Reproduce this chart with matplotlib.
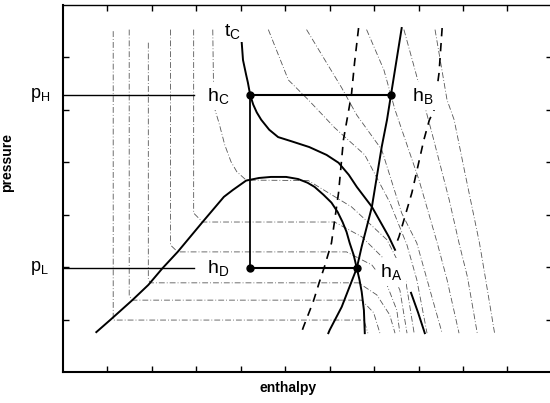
import matplotlib.pyplot as plt

plt.rcParams['font.family'] = ['Liberation Sans', 'DejaVu Sans']
plt.rcParams['mathtext.default'] = 'regular'

# cycle states (enthalpy, pressure), arbitrary units
p_high = 5.29
p_low = 1.98
state_c = (4.21, p_high)
state_b = (7.38, p_high)
state_d = (4.21, p_low)
state_a = (6.61, p_low)

# saturation dome
dome_h = [0.75, 1.06, 1.56, 1.92, 2.24, 2.58, 3.14, 3.62, 3.82, 4.12, 4.41, 4.68, 5.02, 5.29, 5.5, 5.66, 5.86,
          6.04, 6.18, 6.29, 6.38, 6.45, 6.54, 6.61, 6.67, 6.72, 6.77, 6.79]
dome_p = [0.76, 0.99, 1.37, 1.66, 1.98, 2.29, 2.86, 3.34, 3.47, 3.65, 3.70, 3.72, 3.72, 3.68, 3.61, 3.53, 3.38,
          3.23, 3.05, 2.86, 2.67, 2.46, 2.23, 1.98, 1.76, 1.53, 1.18, 0.74]

# critical isotherm t_C
tc_h = [4.0, 4.05, 4.12, 4.16, 4.21, 4.28, 4.36, 4.46, 4.64, 4.84, 5.14, 5.54, 5.93, 6.2, 6.43, 6.61,
        6.95, 7.17, 7.33, 7.47]
tc_p = [6.53, 5.95, 5.67, 5.52, 5.29, 5.1, 4.95, 4.81, 4.62, 4.48, 4.4, 4.29, 4.14, 3.99, 3.76, 3.53,
        3.15, 2.82, 2.58, 2.33]

# isentrope through A and B
isen_h = [7.62, 7.38, 7.29, 7.17, 6.95, 6.72, 6.61, 6.27, 6.0, 5.97]
isen_p = [6.56, 5.29, 4.81, 4.29, 3.15, 2.39, 1.98, 1.24, 0.8, 0.74]

# short isentrope piece, lower right
isen2_h = [7.83, 7.99, 8.14]
isen2_p = [1.51, 1.13, 0.74]

# dashed lines
dash1_h = [6.65, 6.56, 6.49, 6.31, 6.2, 6.04, 5.88, 5.77, 5.63, 5.41, 5.36]
dash1_p = [6.56, 5.9, 5.29, 4.43, 3.42, 2.46, 2.0, 1.72, 1.34, 0.86, 0.74]
dash2_h = [8.53, 8.46, 8.35, 8.24, 8.12, 7.85, 7.56, 7.5]
dash2_p = [6.56, 5.7, 5.0, 4.8, 4.43, 3.42, 2.58, 2.45]

# thin isotherms: liquid / two-phase / vapour parts
iso1 = [(1.13, 6.5), (1.13, 0.99), (6.77, 0.99), (6.86, 0.74)]
iso2 = [(1.49, 6.53), (1.49, 1.45), (1.56, 1.37), (6.72, 1.37), (6.99, 1.13), (7.13, 0.74)]
iso3 = [(1.92, 6.28), (1.92, 1.76), (1.97, 1.70), (6.65, 1.70), (7.06, 1.47), (7.35, 1.09), (7.47, 0.74)]
iso4 = [(2.42, 6.53), (2.42, 2.42), (2.58, 2.29), (6.38, 2.29), (6.95, 2.04), (7.29, 1.66), (7.51, 1.18), (7.58, 0.74)]
iso5 = [(2.94, 6.53), (2.94, 3.03), (3.14, 2.86), (6.11, 2.86), (6.72, 2.58), (7.29, 2.10), (7.58, 1.56), (7.74, 0.74)]
iso6 = [(3.37, 6.53), (3.39, 5.19), (3.42, 5.0), (3.51, 4.75), (3.64, 4.33), (3.78, 4.01), (3.91, 3.82),
        (4.12, 3.66), (5.52, 3.65), (6.49, 3.15), (7.29, 2.52), (7.69, 1.85), (7.9, 0.74)]
iso7 = [(4.62, 6.53), (5.07, 5.57), (5.52, 5.19), (6.11, 4.66), (6.79, 4.14), (7.35, 3.24), (7.74, 2.42), (7.96, 1.76), (8.19, 0.74)]
iso8 = [(5.48, 6.53), (6.27, 5.42), (6.61, 4.9), (7.17, 4.24), (7.62, 3.03), (7.96, 2.46), (8.3, 1.43), (8.53, 0.74)]
iso9 = [(6.83, 6.53), (7.22, 5.76), (7.47, 5.0), (8.01, 3.66), (8.42, 2.46), (8.64, 1.76), (8.91, 0.74)]
iso10 = [(7.67, 6.53), (7.92, 5.76), (8.3, 4.56), (8.69, 3.28), (8.91, 2.46), (9.1, 1.81), (9.32, 0.74)]
iso11 = [(8.37, 6.53), (8.64, 5.19), (8.8, 4.81), (9.03, 3.85), (9.37, 2.46), (9.5, 1.81), (9.71, 0.74)]
isotherms = [iso1, iso2, iso3, iso4, iso5, iso6, iso7, iso8, iso9, iso10, iso11]

fig = plt.figure(figsize=(5.5, 4.03), dpi=100)
ax = fig.add_axes([0.1145, 0.077, 0.889, 0.9107])

thin = dict(color='#555555', lw=0.6, ls=(0, (7, 2.5, 1, 2.5)))
for iso in isotherms:
    ax.plot([q[0] for q in iso], [q[1] for q in iso], **thin)

ax.plot(dome_h, dome_p, color='black', lw=1.4)
ax.plot(tc_h, tc_p, color='black', lw=1.4)
ax.plot(isen_h, isen_p, color='black', lw=1.4)
ax.plot(isen2_h, isen2_p, color='black', lw=1.4)
ax.plot(dash1_h, dash1_p, color='black', lw=1.2, ls=(0, (5, 4)))
ax.plot(dash2_h, dash2_p, color='black', lw=1.2, ls=(0, (5, 4)))

# pressure levels and cycle
ax.plot([0, 2.95], [p_high, p_high], color='black', lw=1.0)
ax.plot([0, 2.95], [p_low, p_low], color='black', lw=1.0)
ax.plot([state_c[0], state_b[0]], [p_high, p_high], color='black', lw=1.5)
ax.plot([state_d[0], state_a[0]], [p_low, p_low], color='black', lw=1.5)
ax.plot([state_c[0], state_d[0]], [p_high, p_low], color='black', lw=1.3)
for s in [state_c, state_b, state_d, state_a]:
    ax.plot(s[0], s[1], 'o', color='black', ms=5)

box = dict(fc='white', ec='none', pad=3)
ax.text(3.5, 5.27, '$h_C$', fontsize=14, ha='center', va='center', bbox=box)
ax.text(3.5, 1.98, '$h_D$', fontsize=14, ha='center', va='center', bbox=box)
ax.text(8.1, 5.27, '$h_B$', fontsize=14, ha='center', va='center', bbox=box)
ax.text(7.38, 1.9, '$h_A$', fontsize=14, ha='center', va='center', bbox=box)
ax.text(3.82, 6.5, '$t_C$', fontsize=14, ha='center', va='center', bbox=dict(fc='white', ec='none', pad=1))
ax.text(-0.52, p_high, '$p_H$', fontsize=13, ha='center', va='center', clip_on=False)
ax.text(-0.52, p_low, '$p_L$', fontsize=13, ha='center', va='center', clip_on=False)

ax.set_xlim(0, 11)
ax.set_ylim(0, 7)
ax.set_xticks(range(1, 11))
ax.set_yticks(range(1, 7))
ax.tick_params(direction='in', length=4, width=1, top=True, right=True,
               labelbottom=False, labelleft=False)
for side in ['left', 'bottom']:
    ax.spines[side].set_linewidth(1.5)
ax.spines['top'].set_linewidth(1.0)

ax.set_xlabel('enthalpy', fontsize=10, fontweight='bold')
ax.set_ylabel('pressure', fontsize=10, fontweight='bold')
ax.xaxis.set_label_coords(0.46, -0.025, transform=ax.transAxes)
ax.xaxis.label.set_va('top')
ax.yaxis.set_label_coords(-0.1, 0.57)

fig.savefig('out.png', dpi=100)
